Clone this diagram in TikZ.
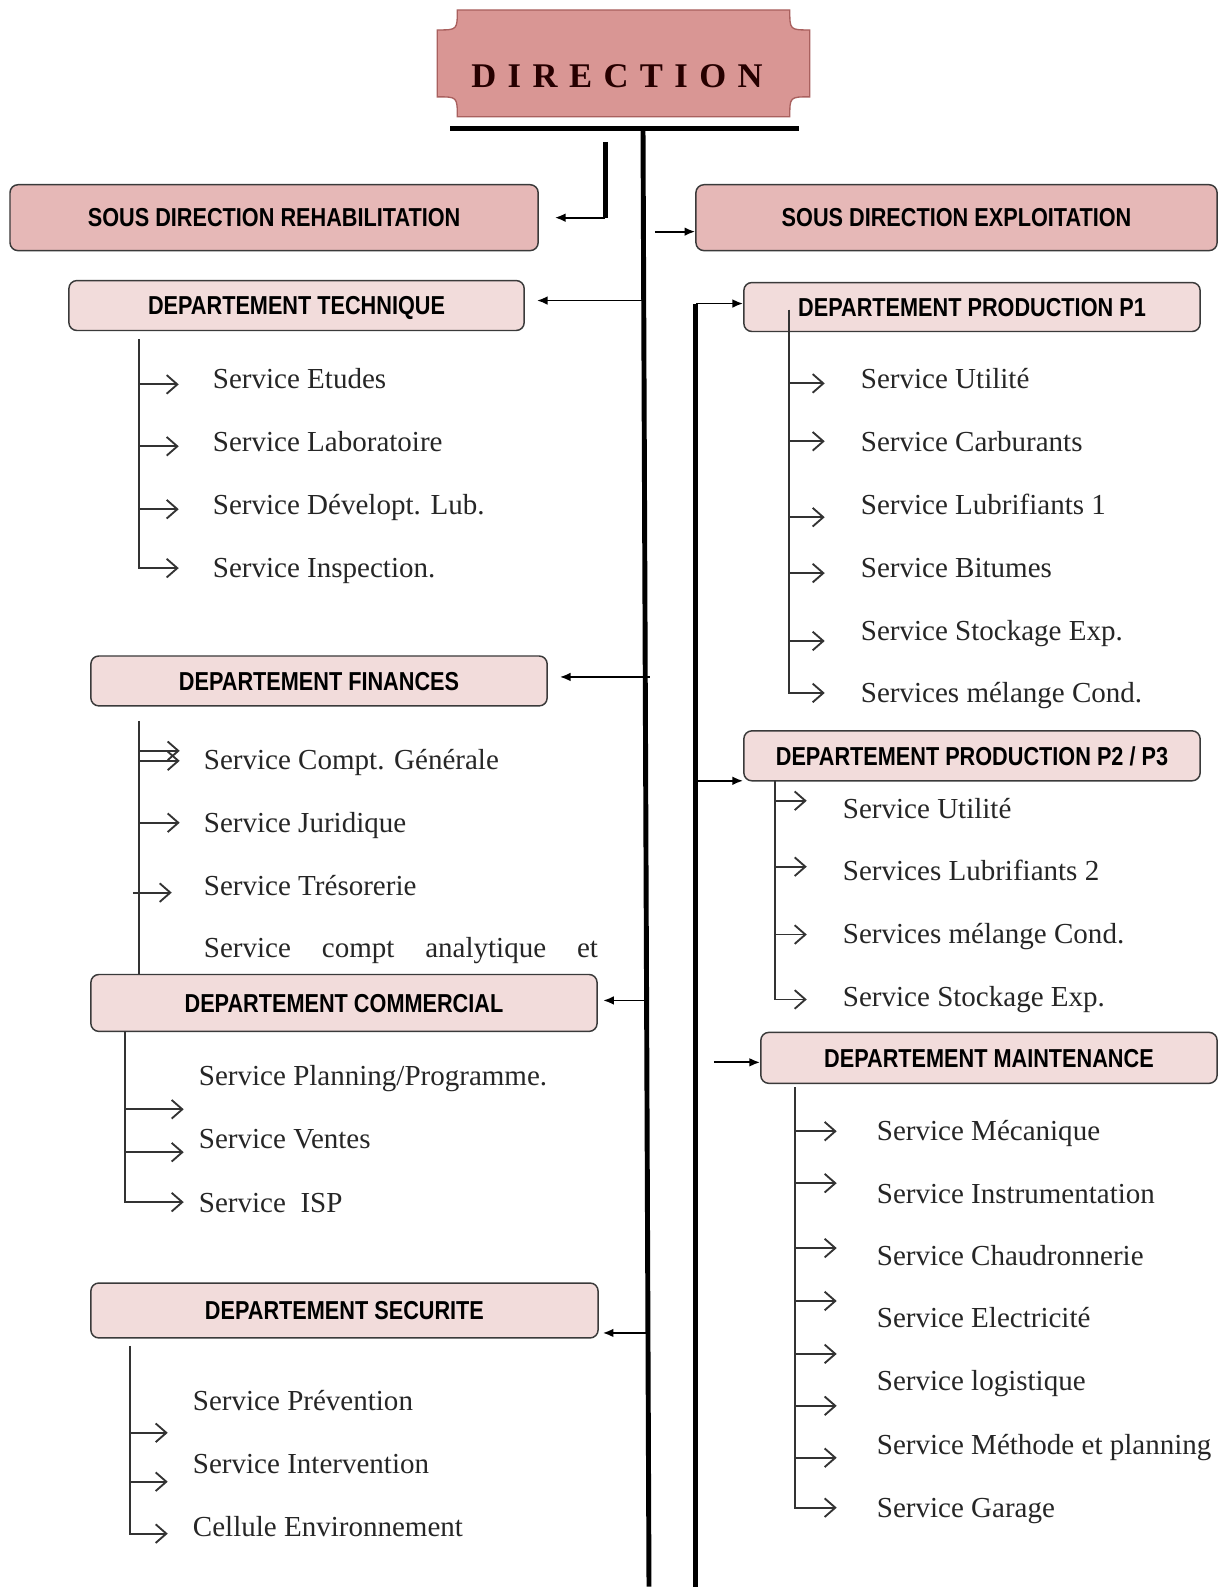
\documentclass[tikz,border=0pt]{standalone}
\usepackage{fontspec}
\setmainfont{Liberation Serif}
\newfontfamily\hdrfont[FakeStretch=0.835]{Liberation Sans}
\usetikzlibrary{arrows.meta}

\definecolor{dirfill}{HTML}{D99694}
\definecolor{dirline}{HTML}{A9605E}
\definecolor{sdfill}{HTML}{E6B8B7}
\definecolor{dpfill}{HTML}{F2DCDB}
\definecolor{boxline}{HTML}{3A3A3A}

\tikzset{
  sdbox/.style={draw=boxline, line width=1.1pt, fill=sdfill, rounded corners=6pt, inner sep=0pt,
    text height=14pt, text depth=0pt, font={\hdrfont\bfseries\fontsize{19.5pt}{22pt}\selectfont}},
  dpbox/.style={sdbox, fill=dpfill},
  bsize/.style 2 args={minimum width=#1*0.75pt, minimum height=#2*0.75pt},
  svc/.style={anchor=base west, inner sep=0pt, text=black!85, font={\fontsize{21.8pt}{26pt}\selectfont}},
  trunk/.style={line width=3.7pt},
  link/.style={line width=1.4pt, -{Latex[length=8pt,width=6.5pt]}},
  tosvc/.style={line width=1.4pt, draw=black!80, -{Straight Barb[length=8pt,width=14pt]}},
  branch/.style={line width=1.4pt, draw=black!80},
}

\begin{document}
\begin{tikzpicture}[x=0.75pt,y=0.75pt,yscale=-1,xscale=1]
\fill[white] (0,0) rectangle (1224,1589);

%Shape: Plaque [DIRECTION]
\draw[fill=dirfill, draw=dirline, line width=1pt] (458,10) -- (791,10) .. controls (791,30) .. (811,30) -- (811,97) .. controls (791,97) .. (791,117) -- (458,117) .. controls (458,97) .. (438,97) -- (438,30) .. controls (458,30) .. (458,10) -- cycle ;
% Text Node
\node[inner sep=0pt, text=black!85!red, font={\bfseries\fontsize{26pt}{30pt}\selectfont\addfontfeatures{LetterSpace=33}}] (dir) at (618,76) {DIRECTION};

% Bar and trunks
\coordinate (barL) at (451,129);
\coordinate (barR) at (800,129);
\coordinate (tTop) at (644,129);
\coordinate (tBot) at (650,1589);
\draw[trunk] (barL) -- (barR);
\draw[trunk] (tTop) -- (tBot);
\coordinate (rTop) at (697,304);
\coordinate (rBot) at (697,1589);
\draw[trunk] (rTop) -- (rBot);

% Boxes
\node[sdbox, bsize={529}{66}] (sdr) at (274.5,218) {SOUS DIRECTION REHABILITATION};
\node[sdbox, bsize={522}{66}] (sde) at (958,218) {SOUS DIRECTION EXPLOITATION};
\node[dpbox, bsize={456}{50}] (tech) at (297,306) {DEPARTEMENT TECHNIQUE};
\node[dpbox, bsize={457}{50}] (fin) at (319.5,682) {DEPARTEMENT FINANCES};
\node[dpbox, bsize={507}{57}] (com) at (344.5,1004.5) {DEPARTEMENT COMMERCIAL};
\node[dpbox, bsize={508}{55}] (sec) at (345,1312.5) {DEPARTEMENT SECURITE};
\node[dpbox, bsize={457}{49}] (p1) at (973.5,307.5) {DEPARTEMENT PRODUCTION P1};
\node[dpbox, bsize={457}{50}] (p2) at (973.5,757) {DEPARTEMENT PRODUCTION P2 / P3};
\node[dpbox, bsize={457}{51}] (mnt) at (990.5,1059.5) {DEPARTEMENT MAINTENANCE};

% Links to the boxes
\coordinate (sdrTop) at (606,142);
\coordinate (sdrKnee) at (606,218);
\draw[trunk] (sdrTop) -- (sdrKnee);
\draw[link, shorten >=12pt] (sdrKnee) -- (sdrKnee -| sdr.east);
\coordinate (jSde) at (656,232);
\draw[link] (jSde) -- (jSde -| sde.west);
\coordinate (jTech) at (645,301);
\draw[link, shorten >=9pt] (jTech) -- (jTech -| tech.east);
\coordinate (jFin) at (651,678);
\draw[link, shorten >=9pt] (jFin) -- (jFin -| fin.east);
\coordinate (jCom) at (646,1002);
\draw[link, shorten >=4pt] (jCom) -- (jCom -| com.east);
\coordinate (jSec) at (648,1335);
\draw[link, shorten >=3pt] (jSec) -- (jSec -| sec.east);
\draw[link] (rTop) -- (rTop -| p1.west);
\coordinate (jP2) at (697,782);
\draw[link] (jP2) -- (jP2 -| p2.west);
\coordinate (jMnt) at (715,1064);
\draw[link] (jMnt) -- (jMnt -| mnt.west);

% Services technique
\foreach \t/\y [count=\i] in {Service Etudes/389,Service Laboratoire/452,Service Dévelopt. Lub./515,Service Inspection./578}
  \node[svc] (tech-\i) at (213,\y) {\t};
\foreach \y [count=\i] in {385,447,510}{
  \coordinate (tech-a\i) at (139,\y);
  \coordinate (tech-b\i) at (179,\y);
  \draw[tosvc] (tech-a\i) -- (tech-b\i);
}
\coordinate (techTop) at (139,340);
\coordinate (techEnd) at (179,569);
\draw[tosvc] (techTop) |- (techEnd);

% Services finances
\foreach \t/\y [count=\i] in {Service Compt. Générale/771,Service Juridique/834,Service Trésorerie/897}
  \node[svc] (fin-\i) at (204,\y) {\t};
\node[svc] (fin-4) at (204,959) {\makebox[296pt][s]{Service compt analytique et}};
\coordinate (finTop) at (139,722);
\coordinate (finEnd) at (139,976);
\draw[branch] (finTop) -- (finEnd);
\foreach \y [count=\i] in {752,762,824}{
  \coordinate (fin-a\i) at (139,\y);
  \coordinate (fin-b\i) at (180,\y);
  \draw[tosvc] (fin-a\i) -- (fin-b\i);
}
\coordinate (fin-a4) at (133,894);
\coordinate (fin-b4) at (172,894);
\draw[tosvc] (fin-a4) -- (fin-b4);

% Services commercial
\foreach \t/\y [count=\i] in {{Service Planning/Programme.}/1087,Service Ventes/1150,Service~~ISP/1214}
  \node[svc] (com-\i) at (199,\y) {\t};
\foreach \y [count=\i] in {1111,1154}{
  \coordinate (com-a\i) at (125,\y);
  \coordinate (com-b\i) at (184,\y);
  \draw[tosvc] (com-a\i) -- (com-b\i);
}
\coordinate (comTop) at (125,1033);
\coordinate (comEnd) at (184,1204);
\draw[tosvc] (comTop) |- (comEnd);

% Services securite
\foreach \t/\y [count=\i] in {Service Prévention/1413,Service Intervention/1476,Cellule Environnement/1539}
  \node[svc] (sec-\i) at (193,\y) {\t};
\foreach \y [count=\i] in {1435,1484}{
  \coordinate (sec-a\i) at (130,\y);
  \coordinate (sec-b\i) at (168,\y);
  \draw[tosvc] (sec-a\i) -- (sec-b\i);
}
\coordinate (secTop) at (130,1348);
\coordinate (secEnd) at (168,1536);
\draw[tosvc] (secTop) |- (secEnd);

% Services production P1
\foreach \t/\y [count=\i] in {Service Utilité/389,Service Carburants/452,Service Lubrifiants 1/515,Service Bitumes/578,Service Stockage Exp./641,Services mélange Cond./704}
  \node[svc] (p1-\i) at (862,\y) {\t};
\foreach \y [count=\i] in {384,442,518,574,642}{
  \coordinate (p1-a\i) at (790,\y);
  \coordinate (p1-b\i) at (826,\y);
  \draw[tosvc] (p1-a\i) -- (p1-b\i);
}
\coordinate (p1Top) at (790,310);
\coordinate (p1End) at (826,694);
\draw[tosvc] (p1Top) |- (p1End);

% Services production P2 / P3
\foreach \t/\y [count=\i] in {Service Utilité/820,Services Lubrifiants 2/882,Services mélange Cond./945,Service Stockage Exp./1008}
  \node[svc] (p2-\i) at (844,\y) {\t};
\foreach \y [count=\i] in {802,868,936}{
  \coordinate (p2-a\i) at (776,\y);
  \coordinate (p2-b\i) at (808,\y);
  \draw[tosvc] (p2-a\i) -- (p2-b\i);
}
\coordinate (p2Top) at (776,782);
\coordinate (p2End) at (808,1001);
\draw[tosvc] (p2Top) |- (p2End);

% Services maintenance
\foreach \t/\y [count=\i] in {Service Mécanique/1142,Service Instrumentation/1205,Service Chaudronnerie/1267,Service Electricité/1330,Service logistique/1393,Service Méthode et planning/1457,Service Garage/1520}
  \node[svc] (mnt-\i) at (878,\y) {\t};
\foreach \y [count=\i] in {1133,1185,1250,1303,1356,1408,1460}{
  \coordinate (mnt-a\i) at (796,\y);
  \coordinate (mnt-b\i) at (838,\y);
  \draw[tosvc] (mnt-a\i) -- (mnt-b\i);
}
\coordinate (mntTop) at (796,1089);
\coordinate (mntEnd) at (838,1510);
\draw[tosvc] (mntTop) |- (mntEnd);

\end{tikzpicture}
\end{document}
